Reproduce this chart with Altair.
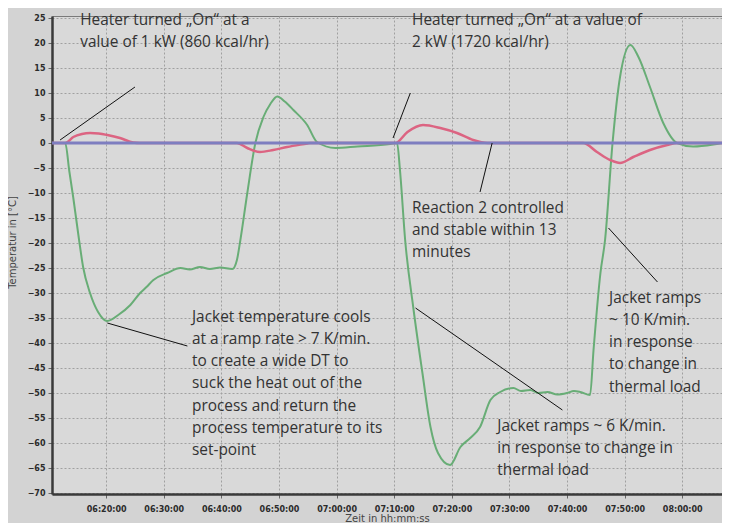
import altair as alt
import pandas as pd

# ---- data (time = minutes after 06:00, temperature in °C) ----
jacket_time = [10.6, 12.9, 13.6, 14.3, 15.3, 16.0, 17.2, 18.6, 20.2, 22.1, 24.2, 25.9, 27.0, 28.2,
               30.6, 32.9, 34.5, 36.3, 38.0, 39.8, 41.9, 42.7, 43.3, 44.5, 45.9, 47.3, 48.5, 49.7,
               51.0, 52.5, 54.9, 56.6, 59.8, 63.6, 69.3, 70.5, 71.0, 71.9, 73.3, 74.9, 76.3, 77.6,
               79.7, 81.5, 83.2, 84.9, 86.7, 88.4, 90.7, 92.0, 93.6, 95.0, 96.6, 98.3, 100.0, 101.2,
               102.3, 104.0, 104.6, 105.8, 106.6, 107.9, 109.2, 111.0, 112.4, 114.4, 116.7, 119.1,
               121.9, 125.4, 126.9]
jacket_temp = [0, 0, -5.6, -11, -19.4, -24.8, -30, -33.8, -35.6, -34.4, -32.4, -30, -28.8, -27.4,
               -26, -25, -25.3, -24.8, -25.2, -24.9, -25.2, -23.4, -19.4, -10, 0, 5.2, 7.8, 9.3,
               8.3, 6.6, 3.6, 0.2, -1, -0.7, -0.2, 0, -5.4, -19.4, -32.8, -46, -56.8, -62,
               -64.4, -60.8, -59, -56.8, -51.4, -49.8, -49, -49.6, -49.4, -50, -49.8, -50.3, -50, -49.6,
               -49.8, -50.4, -41.4, -26, -19.4, 0, 13.2, 19.6, 17.2, 11.2, 4, 0,
               -0.7, -0.3, 0]

process_time = [10.6, 12.9, 14.3, 15.8, 17.2, 18.7, 20.2, 22.4, 24.7, 25.9, 42.7, 44.5, 46.7, 49.0,
                51.4, 54.9, 55.4, 70.2, 72.3, 75.0, 78.0, 80.9, 83.7, 86.2, 102.8, 105.2, 107.5,
                109.2, 111.5, 114.4, 117.4, 119.1, 126.9]
process_temp = [0, 0, 1.2, 1.8, 2.0, 1.9, 1.6, 1.0, 0.1, 0, 0, -1.0, -1.8, -1.4,
                -0.8, -0.1, 0, 0, 2.2, 3.6, 3.0, 2.0, 0.6, 0, 0, -1.8, -3.4,
                -4.0, -2.8, -1.4, -0.4, 0, 0]

setpoint_time = [10.6, 126.9]
setpoint_temp = [0, 0]

x_ticks = [20, 30, 40, 50, 60, 70, 80, 90, 100, 110, 120]
y_ticks = list(range(-70, 30, 5))

# annotations: anchor (time, temp) of first text line, and leader line ends
ann_time = [15.5, 73.1, 73.1, 34.9, 107.3, 87.9]
ann_temp = [23.6, 23.6, -13.9, -35.7, -31.9, -57.5]
ann_lines = [
    ["Heater turned „On“ at a", "value of 1 kW (860 kcal/hr)"],
    ["Heater turned „On“ at a value of", "2 kW (1720 kcal/hr)"],
    ["Reaction 2 controlled", "and stable within 13", "minutes"],
    ["Jacket temperature cools", "at a ramp rate > 7 K/min.", "to create a wide DT to",
     "suck the heat out of the", "process and return the", "process temperature to its", "set-point"],
    ["Jacket ramps", "~ 10 K/min.", "in response", "to change in", "thermal load"],
    ["Jacket ramps ~ 6 K/min.", "in response to change in", "thermal load"],
]
lead_t1 = [25.0, 72.8, 84.9, 20.2, 115.7, 73.7]
lead_v1 = [11.2, 10.0, -9.8, -36.0, -27.8, -33.0]
lead_t2 = [12.0, 69.8, 87.0, 34.1, 107.2, 99.2]
lead_v2 = [0.6, 1.0, 0.0, -40.6, -17.0, -53.4]

# ---- build tables ----
lines_df = pd.concat([
    pd.DataFrame({"t": jacket_time, "v": jacket_temp, "s": "jacket"}),
    pd.DataFrame({"t": process_time, "v": process_temp, "s": "process"}),
    pd.DataFrame({"t": setpoint_time, "v": setpoint_temp, "s": "setpoint"}),
])
ann_df = pd.DataFrame({"t": ann_time, "v": ann_temp, "lines": ann_lines})
lead_df = pd.DataFrame({"t": lead_t1, "v": lead_v1, "t2": lead_t2, "v2": lead_v2})

xscale = alt.Scale(domain=[10.6, 126.9], nice=False, zero=False)
yscale = alt.Scale(domain=[-70.2, 25.4], nice=False, zero=False)

xaxis = alt.Axis(values=x_ticks,
                 labelExpr="timeFormat(datetime(2000, 0, 1, 6, datum.value, 0), '%H:%M:%S')",
                 title="Zeit in hh:mm:ss", grid=True, gridDash=[2, 2], gridColor="#a0a0a0",
                 tickSize=4, labelPadding=7, titlePadding=0, labelOverlap=False,
                 labelFont="DejaVu Sans", labelFontWeight="bold", labelFontSize=8,
                 labelColor="#2b2b2b", titleFont="DejaVu Sans", titleFontWeight="normal",
                 titleFontSize=10, titleColor="#444444",
                 domainColor="#3a3a3a", domainWidth=2.5, tickColor="#666666")
yaxis = alt.Axis(values=y_ticks, title="Temperatur in [°C]", grid=True, gridDash=[2, 2],
                 gridColor="#a0a0a0", tickSize=4, labelPadding=3, labelOverlap=False,
                 labelFont="DejaVu Sans", labelFontWeight="bold", labelFontSize=8,
                 labelColor="#2b2b2b", titleFont="DejaVu Sans", titleFontWeight="normal",
                 titleFontSize=10, titleColor="#444444", titleX=-40, titleY=226,
                 titleAngle=-90, titleAlign="center", titleBaseline="middle",
                 domainColor="#3a3a3a", domainWidth=2.5, tickColor="#666666")

X = alt.X("t:Q", scale=xscale, axis=xaxis)
Y = alt.Y("v:Q", scale=yscale, axis=yaxis)

base = alt.Chart(lines_df)

jacket = base.transform_filter(alt.datum.s == "jacket").mark_line(
    color="#68ad76", strokeWidth=2, interpolate="monotone").encode(
    x=X, y=Y, order="t:Q")
process = base.transform_filter(alt.datum.s == "process").mark_line(
    color="#dc6482", strokeWidth=2.5, interpolate="monotone").encode(
    x=X, y=Y, order="t:Q")
setpoint = base.transform_filter(alt.datum.s == "setpoint").mark_line(
    color="#7e7ec0", strokeWidth=3).encode(x=X, y=Y)

leaders = alt.Chart(lead_df).mark_rule(color="#111111", strokeWidth=1).encode(
    x=X, y=Y, x2="t2:Q", y2="v2:Q")

texts = alt.Chart(ann_df).mark_text(
    align="left", baseline="alphabetic", font="Open Sans", fontSize=15.4,
    fontWeight="normal", lineHeight=22.3, color="#333333").encode(
    x=X, y=Y, text="lines")

chart = alt.layer(jacket, process, setpoint, leaders, texts).properties(
    width=670, height=478,
    padding={"left": 44, "top": 8, "right": 0, "bottom": 29},
    autosize=alt.AutoSizeParams(type="none"),
    background="#d3d3d3",
).configure_view(fill="#d9d9d9", stroke="#7a7a7a", strokeWidth=1)

chart.save("out.html", embed_options={"renderer": "svg", "actions": False})
